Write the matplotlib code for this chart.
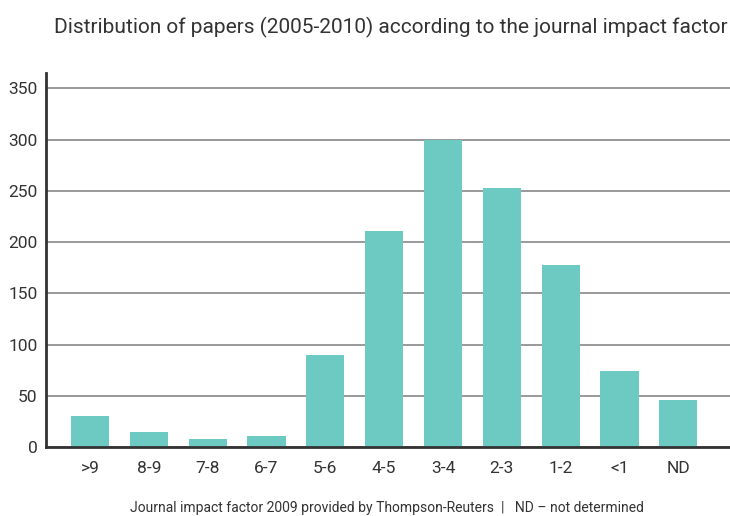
import numpy as np
import matplotlib
matplotlib.use("Agg")
import matplotlib.pyplot as plt

# impact factor bins and paper counts
categories = [">9", "8-9", "7-8", "6-7", "5-6", "4-5", "3-4", "2-3", "1-2", "<1", "ND"]
papers = [30, 15, 8, 11, 90, 211, 300, 253, 178, 74, 46]
yticks = [0, 50, 100, 150, 200, 250, 300, 350]

plt.rcParams['font.family'] = ['Roboto', 'DejaVu Sans']

fig = plt.figure(figsize=(7.3, 5.16), dpi=100)
ax = fig.add_axes([46 / 730, 69 / 516, 684 / 730, 374 / 516])

x = np.arange(len(categories))
ax.bar(x, papers, width=0.65, color='#6dcac3', zorder=3)

ax.set_xlim(-0.75, len(categories) - 1 + 0.88)
ax.set_ylim(0, 365)
ax.set_yticks(yticks)
ax.set_xticks(x)
ax.set_xticklabels(categories)
ax.grid(axis='y', color='#999999', linewidth=1.4, zorder=1)
ax.set_axisbelow(True)

for side in ['top', 'right']:
    ax.spines[side].set_visible(False)
for side in ['left', 'bottom']:
    ax.spines[side].set_color('#333333')
    ax.spines[side].set_linewidth(2)
    ax.spines[side].set_zorder(4)

ax.tick_params(axis='both', length=0, labelsize=12.5, colors='#333333', pad=6)
ax.tick_params(axis='x', pad=10)

fig.text(0.997, 0.947, "Distribution of papers (2005-2010) according to the journal impact factor",
         ha='right', va='center', fontsize=15, color='#333333')
fig.text(0.53, 0.015, "Journal impact factor 2009 provided by Thompson-Reuters  |   ND \u2013 not determined",
         ha='center', va='center', fontsize=10, color='#333333')

fig.savefig("out.png", dpi=100)
